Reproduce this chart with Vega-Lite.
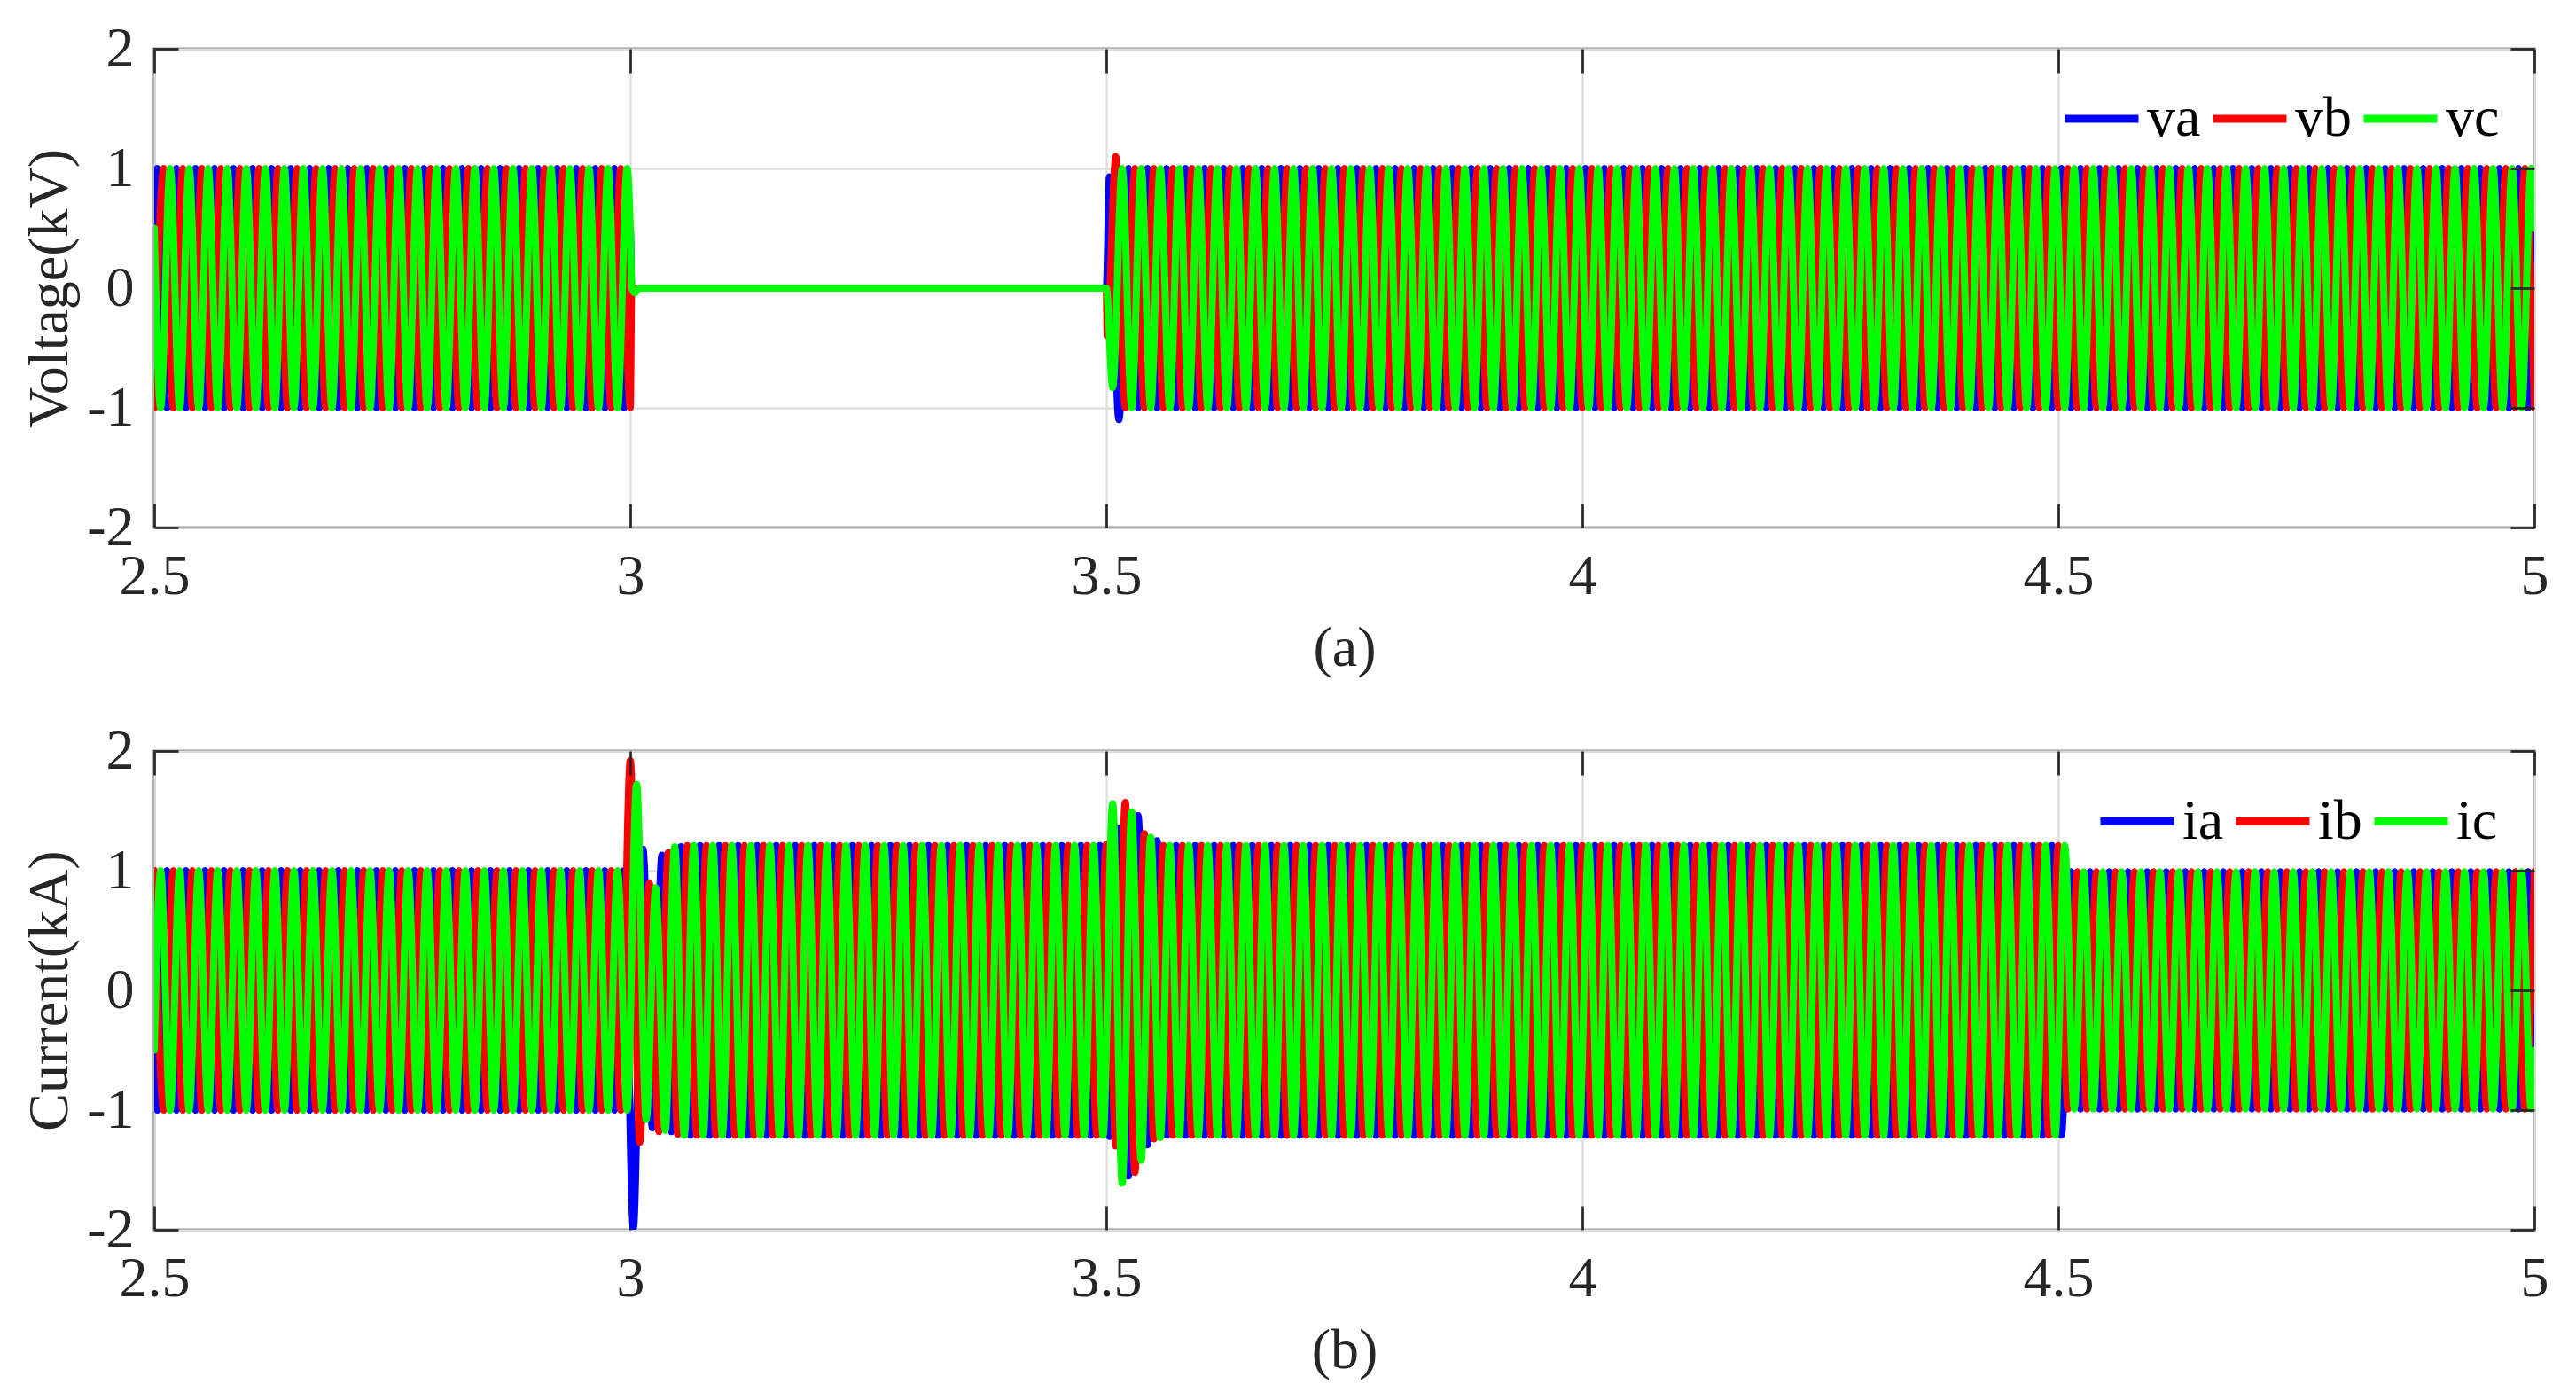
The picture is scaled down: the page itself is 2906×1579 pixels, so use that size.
{
"$schema":"https://vega.github.io/schema/vega-lite/v6.json",
"background":"white",
"padding":{"left":23,"top":21,"right":30,"bottom":20},
"config":{
"view":{"stroke":"#262626","strokeWidth":2.7},
"font":"Liberation Serif",
"axis":{"labelFont":"Liberation Serif","titleFont":"Liberation Serif","labelFontSize":64,"titleFontSize":64,"titleFontWeight":"normal","labelColor":"#262626","titleColor":"#262626","tickColor":"#262626","tickWidth":2.7,"tickSize":-27,"domain":false,"gridColor":"#dfdfdf","gridWidth":2.5,"labelFlush":false,"labelOverlap":false},
"legend":{"orient":"none","direction":"horizontal","title":null,"symbolType":"stroke","symbolSize":6889,"symbolStrokeWidth":9,"labelFontSize":64,"labelFont":"Liberation Serif","labelColor":"#000000","labelOffset":5,"columnPadding":-5,"padding":0}
},
"datasets":{
"va":[{"t":2.5,"y":0.5},
{"t":2.5033,"y":1},{"t":2.5133,"y":-1},{"t":2.5233,"y":1},{"t":2.5333,"y":-1},{"t":2.5433,"y":1},{"t":2.5533,"y":-1},{"t":2.5633,"y":1},{"t":2.5733,"y":-1},{"t":2.5833,"y":1},{"t":2.5933,"y":-1},
{"t":2.6033,"y":1},{"t":2.6133,"y":-1},{"t":2.6233,"y":1},{"t":2.6333,"y":-1},{"t":2.6433,"y":1},{"t":2.6533,"y":-1},{"t":2.6633,"y":1},{"t":2.6733,"y":-1},{"t":2.6833,"y":1},{"t":2.6933,"y":-1},
{"t":2.7033,"y":1},{"t":2.7133,"y":-1},{"t":2.7233,"y":1},{"t":2.7333,"y":-1},{"t":2.7433,"y":1},{"t":2.7533,"y":-1},{"t":2.7633,"y":1},{"t":2.7733,"y":-1},{"t":2.7833,"y":1},{"t":2.7933,"y":-1},
{"t":2.8033,"y":1},{"t":2.8133,"y":-1},{"t":2.8233,"y":1},{"t":2.8333,"y":-1},{"t":2.8433,"y":1},{"t":2.8533,"y":-1},{"t":2.8633,"y":1},{"t":2.8733,"y":-1},{"t":2.8833,"y":1},{"t":2.8933,"y":-1},
{"t":2.9033,"y":1},{"t":2.9133,"y":-1},{"t":2.9233,"y":1},{"t":2.9333,"y":-1},{"t":2.9433,"y":1},{"t":2.9533,"y":-1},{"t":2.9633,"y":1},{"t":2.9733,"y":-1},{"t":2.9833,"y":1},{"t":2.9933,"y":-1},
{"t":3,"y":0.5},{"t":3.0015,"y":0},{"t":3.5,"y":0},
{"t":3.5033,"y":0.93},{"t":3.5133,"y":-1.1},{"t":3.5233,"y":1},{"t":3.5333,"y":-1},{"t":3.5433,"y":1},{"t":3.5533,"y":-1},{"t":3.5633,"y":1},{"t":3.5733,"y":-1},{"t":3.5833,"y":1},{"t":3.5933,"y":-1},
{"t":3.6033,"y":1},{"t":3.6133,"y":-1},{"t":3.6233,"y":1},{"t":3.6333,"y":-1},{"t":3.6433,"y":1},{"t":3.6533,"y":-1},{"t":3.6633,"y":1},{"t":3.6733,"y":-1},{"t":3.6833,"y":1},{"t":3.6933,"y":-1},
{"t":3.7033,"y":1},{"t":3.7133,"y":-1},{"t":3.7233,"y":1},{"t":3.7333,"y":-1},{"t":3.7433,"y":1},{"t":3.7533,"y":-1},{"t":3.7633,"y":1},{"t":3.7733,"y":-1},{"t":3.7833,"y":1},{"t":3.7933,"y":-1},
{"t":3.8033,"y":1},{"t":3.8133,"y":-1},{"t":3.8233,"y":1},{"t":3.8333,"y":-1},{"t":3.8433,"y":1},{"t":3.8533,"y":-1},{"t":3.8633,"y":1},{"t":3.8733,"y":-1},{"t":3.8833,"y":1},{"t":3.8933,"y":-1},
{"t":3.9033,"y":1},{"t":3.9133,"y":-1},{"t":3.9233,"y":1},{"t":3.9333,"y":-1},{"t":3.9433,"y":1},{"t":3.9533,"y":-1},{"t":3.9633,"y":1},{"t":3.9733,"y":-1},{"t":3.9833,"y":1},{"t":3.9933,"y":-1},
{"t":4.0033,"y":1},{"t":4.0133,"y":-1},{"t":4.0233,"y":1},{"t":4.0333,"y":-1},{"t":4.0433,"y":1},{"t":4.0533,"y":-1},{"t":4.0633,"y":1},{"t":4.0733,"y":-1},{"t":4.0833,"y":1},{"t":4.0933,"y":-1},
{"t":4.1033,"y":1},{"t":4.1133,"y":-1},{"t":4.1233,"y":1},{"t":4.1333,"y":-1},{"t":4.1433,"y":1},{"t":4.1533,"y":-1},{"t":4.1633,"y":1},{"t":4.1733,"y":-1},{"t":4.1833,"y":1},{"t":4.1933,"y":-1},
{"t":4.2033,"y":1},{"t":4.2133,"y":-1},{"t":4.2233,"y":1},{"t":4.2333,"y":-1},{"t":4.2433,"y":1},{"t":4.2533,"y":-1},{"t":4.2633,"y":1},{"t":4.2733,"y":-1},{"t":4.2833,"y":1},{"t":4.2933,"y":-1},
{"t":4.3033,"y":1},{"t":4.3133,"y":-1},{"t":4.3233,"y":1},{"t":4.3333,"y":-1},{"t":4.3433,"y":1},{"t":4.3533,"y":-1},{"t":4.3633,"y":1},{"t":4.3733,"y":-1},{"t":4.3833,"y":1},{"t":4.3933,"y":-1},
{"t":4.4033,"y":1},{"t":4.4133,"y":-1},{"t":4.4233,"y":1},{"t":4.4333,"y":-1},{"t":4.4433,"y":1},{"t":4.4533,"y":-1},{"t":4.4633,"y":1},{"t":4.4733,"y":-1},{"t":4.4833,"y":1},{"t":4.4933,"y":-1},
{"t":4.5033,"y":1},{"t":4.5133,"y":-1},{"t":4.5233,"y":1},{"t":4.5333,"y":-1},{"t":4.5433,"y":1},{"t":4.5533,"y":-1},{"t":4.5633,"y":1},{"t":4.5733,"y":-1},{"t":4.5833,"y":1},{"t":4.5933,"y":-1},
{"t":4.6033,"y":1},{"t":4.6133,"y":-1},{"t":4.6233,"y":1},{"t":4.6333,"y":-1},{"t":4.6433,"y":1},{"t":4.6533,"y":-1},{"t":4.6633,"y":1},{"t":4.6733,"y":-1},{"t":4.6833,"y":1},{"t":4.6933,"y":-1},
{"t":4.7033,"y":1},{"t":4.7133,"y":-1},{"t":4.7233,"y":1},{"t":4.7333,"y":-1},{"t":4.7433,"y":1},{"t":4.7533,"y":-1},{"t":4.7633,"y":1},{"t":4.7733,"y":-1},{"t":4.7833,"y":1},{"t":4.7933,"y":-1},
{"t":4.8033,"y":1},{"t":4.8133,"y":-1},{"t":4.8233,"y":1},{"t":4.8333,"y":-1},{"t":4.8433,"y":1},{"t":4.8533,"y":-1},{"t":4.8633,"y":1},{"t":4.8733,"y":-1},{"t":4.8833,"y":1},{"t":4.8933,"y":-1},
{"t":4.9033,"y":1},{"t":4.9133,"y":-1},{"t":4.9233,"y":1},{"t":4.9333,"y":-1},{"t":4.9433,"y":1},{"t":4.9533,"y":-1},{"t":4.9633,"y":1},{"t":4.9733,"y":-1},{"t":4.9833,"y":1},{"t":4.9933,"y":-1},
{"t":5,"y":0.5}],
"vb":[
{"t":2.5,"y":-1},{"t":2.51,"y":1},{"t":2.52,"y":-1},{"t":2.53,"y":1},{"t":2.54,"y":-1},{"t":2.55,"y":1},{"t":2.56,"y":-1},{"t":2.57,"y":1},{"t":2.58,"y":-1},{"t":2.59,"y":1},
{"t":2.6,"y":-1},{"t":2.61,"y":1},{"t":2.62,"y":-1},{"t":2.63,"y":1},{"t":2.64,"y":-1},{"t":2.65,"y":1},{"t":2.66,"y":-1},{"t":2.67,"y":1},{"t":2.68,"y":-1},{"t":2.69,"y":1},
{"t":2.7,"y":-1},{"t":2.71,"y":1},{"t":2.72,"y":-1},{"t":2.73,"y":1},{"t":2.74,"y":-1},{"t":2.75,"y":1},{"t":2.76,"y":-1},{"t":2.77,"y":1},{"t":2.78,"y":-1},{"t":2.79,"y":1},
{"t":2.8,"y":-1},{"t":2.81,"y":1},{"t":2.82,"y":-1},{"t":2.83,"y":1},{"t":2.84,"y":-1},{"t":2.85,"y":1},{"t":2.86,"y":-1},{"t":2.87,"y":1},{"t":2.88,"y":-1},{"t":2.89,"y":1},
{"t":2.9,"y":-1},{"t":2.91,"y":1},{"t":2.92,"y":-1},{"t":2.93,"y":1},{"t":2.94,"y":-1},{"t":2.95,"y":1},{"t":2.96,"y":-1},{"t":2.97,"y":1},{"t":2.98,"y":-1},{"t":2.99,"y":1},
{"t":3,"y":-1},{"t":3.0015,"y":0},{"t":3.5,"y":0},{"t":3.501,"y":-0.4},
{"t":3.51,"y":1.1},{"t":3.52,"y":-1},{"t":3.53,"y":1},{"t":3.54,"y":-1},{"t":3.55,"y":1},{"t":3.56,"y":-1},{"t":3.57,"y":1},{"t":3.58,"y":-1},{"t":3.59,"y":1},
{"t":3.6,"y":-1},{"t":3.61,"y":1},{"t":3.62,"y":-1},{"t":3.63,"y":1},{"t":3.64,"y":-1},{"t":3.65,"y":1},{"t":3.66,"y":-1},{"t":3.67,"y":1},{"t":3.68,"y":-1},{"t":3.69,"y":1},
{"t":3.7,"y":-1},{"t":3.71,"y":1},{"t":3.72,"y":-1},{"t":3.73,"y":1},{"t":3.74,"y":-1},{"t":3.75,"y":1},{"t":3.76,"y":-1},{"t":3.77,"y":1},{"t":3.78,"y":-1},{"t":3.79,"y":1},
{"t":3.8,"y":-1},{"t":3.81,"y":1},{"t":3.82,"y":-1},{"t":3.83,"y":1},{"t":3.84,"y":-1},{"t":3.85,"y":1},{"t":3.86,"y":-1},{"t":3.87,"y":1},{"t":3.88,"y":-1},{"t":3.89,"y":1},
{"t":3.9,"y":-1},{"t":3.91,"y":1},{"t":3.92,"y":-1},{"t":3.93,"y":1},{"t":3.94,"y":-1},{"t":3.95,"y":1},{"t":3.96,"y":-1},{"t":3.97,"y":1},{"t":3.98,"y":-1},{"t":3.99,"y":1},
{"t":4,"y":-1},{"t":4.01,"y":1},{"t":4.02,"y":-1},{"t":4.03,"y":1},{"t":4.04,"y":-1},{"t":4.05,"y":1},{"t":4.06,"y":-1},{"t":4.07,"y":1},{"t":4.08,"y":-1},{"t":4.09,"y":1},
{"t":4.1,"y":-1},{"t":4.11,"y":1},{"t":4.12,"y":-1},{"t":4.13,"y":1},{"t":4.14,"y":-1},{"t":4.15,"y":1},{"t":4.16,"y":-1},{"t":4.17,"y":1},{"t":4.18,"y":-1},{"t":4.19,"y":1},
{"t":4.2,"y":-1},{"t":4.21,"y":1},{"t":4.22,"y":-1},{"t":4.23,"y":1},{"t":4.24,"y":-1},{"t":4.25,"y":1},{"t":4.26,"y":-1},{"t":4.27,"y":1},{"t":4.28,"y":-1},{"t":4.29,"y":1},
{"t":4.3,"y":-1},{"t":4.31,"y":1},{"t":4.32,"y":-1},{"t":4.33,"y":1},{"t":4.34,"y":-1},{"t":4.35,"y":1},{"t":4.36,"y":-1},{"t":4.37,"y":1},{"t":4.38,"y":-1},{"t":4.39,"y":1},
{"t":4.4,"y":-1},{"t":4.41,"y":1},{"t":4.42,"y":-1},{"t":4.43,"y":1},{"t":4.44,"y":-1},{"t":4.45,"y":1},{"t":4.46,"y":-1},{"t":4.47,"y":1},{"t":4.48,"y":-1},{"t":4.49,"y":1},
{"t":4.5,"y":-1},{"t":4.51,"y":1},{"t":4.52,"y":-1},{"t":4.53,"y":1},{"t":4.54,"y":-1},{"t":4.55,"y":1},{"t":4.56,"y":-1},{"t":4.57,"y":1},{"t":4.58,"y":-1},{"t":4.59,"y":1},
{"t":4.6,"y":-1},{"t":4.61,"y":1},{"t":4.62,"y":-1},{"t":4.63,"y":1},{"t":4.64,"y":-1},{"t":4.65,"y":1},{"t":4.66,"y":-1},{"t":4.67,"y":1},{"t":4.68,"y":-1},{"t":4.69,"y":1},
{"t":4.7,"y":-1},{"t":4.71,"y":1},{"t":4.72,"y":-1},{"t":4.73,"y":1},{"t":4.74,"y":-1},{"t":4.75,"y":1},{"t":4.76,"y":-1},{"t":4.77,"y":1},{"t":4.78,"y":-1},{"t":4.79,"y":1},
{"t":4.8,"y":-1},{"t":4.81,"y":1},{"t":4.82,"y":-1},{"t":4.83,"y":1},{"t":4.84,"y":-1},{"t":4.85,"y":1},{"t":4.86,"y":-1},{"t":4.87,"y":1},{"t":4.88,"y":-1},{"t":4.89,"y":1},
{"t":4.9,"y":-1},{"t":4.91,"y":1},{"t":4.92,"y":-1},{"t":4.93,"y":1},{"t":4.94,"y":-1},{"t":4.95,"y":1},{"t":4.96,"y":-1},{"t":4.97,"y":1},{"t":4.98,"y":-1},{"t":4.99,"y":1},
{"t":5,"y":-1}],
"vc":[{"t":2.5,"y":0.5},
{"t":2.5067,"y":-1},{"t":2.5167,"y":1},{"t":2.5267,"y":-1},{"t":2.5367,"y":1},{"t":2.5467,"y":-1},{"t":2.5567,"y":1},{"t":2.5667,"y":-1},{"t":2.5767,"y":1},{"t":2.5867,"y":-1},{"t":2.5967,"y":1},
{"t":2.6067,"y":-1},{"t":2.6167,"y":1},{"t":2.6267,"y":-1},{"t":2.6367,"y":1},{"t":2.6467,"y":-1},{"t":2.6567,"y":1},{"t":2.6667,"y":-1},{"t":2.6767,"y":1},{"t":2.6867,"y":-1},{"t":2.6967,"y":1},
{"t":2.7067,"y":-1},{"t":2.7167,"y":1},{"t":2.7267,"y":-1},{"t":2.7367,"y":1},{"t":2.7467,"y":-1},{"t":2.7567,"y":1},{"t":2.7667,"y":-1},{"t":2.7767,"y":1},{"t":2.7867,"y":-1},{"t":2.7967,"y":1},
{"t":2.8067,"y":-1},{"t":2.8167,"y":1},{"t":2.8267,"y":-1},{"t":2.8367,"y":1},{"t":2.8467,"y":-1},{"t":2.8567,"y":1},{"t":2.8667,"y":-1},{"t":2.8767,"y":1},{"t":2.8867,"y":-1},{"t":2.8967,"y":1},
{"t":2.9067,"y":-1},{"t":2.9167,"y":1},{"t":2.9267,"y":-1},{"t":2.9367,"y":1},{"t":2.9467,"y":-1},{"t":2.9567,"y":1},{"t":2.9667,"y":-1},{"t":2.9767,"y":1},{"t":2.9867,"y":-1},{"t":2.9967,"y":1},
{"t":3,"y":0.5},{"t":3.0015,"y":0},{"t":3.005,"y":-0.04},{"t":3.009,"y":0},{"t":3.5,"y":0},
{"t":3.5067,"y":-0.83},{"t":3.5167,"y":1},{"t":3.5267,"y":-1},{"t":3.5367,"y":1},{"t":3.5467,"y":-1},{"t":3.5567,"y":1},{"t":3.5667,"y":-1},{"t":3.5767,"y":1},{"t":3.5867,"y":-1},{"t":3.5967,"y":1},
{"t":3.6067,"y":-1},{"t":3.6167,"y":1},{"t":3.6267,"y":-1},{"t":3.6367,"y":1},{"t":3.6467,"y":-1},{"t":3.6567,"y":1},{"t":3.6667,"y":-1},{"t":3.6767,"y":1},{"t":3.6867,"y":-1},{"t":3.6967,"y":1},
{"t":3.7067,"y":-1},{"t":3.7167,"y":1},{"t":3.7267,"y":-1},{"t":3.7367,"y":1},{"t":3.7467,"y":-1},{"t":3.7567,"y":1},{"t":3.7667,"y":-1},{"t":3.7767,"y":1},{"t":3.7867,"y":-1},{"t":3.7967,"y":1},
{"t":3.8067,"y":-1},{"t":3.8167,"y":1},{"t":3.8267,"y":-1},{"t":3.8367,"y":1},{"t":3.8467,"y":-1},{"t":3.8567,"y":1},{"t":3.8667,"y":-1},{"t":3.8767,"y":1},{"t":3.8867,"y":-1},{"t":3.8967,"y":1},
{"t":3.9067,"y":-1},{"t":3.9167,"y":1},{"t":3.9267,"y":-1},{"t":3.9367,"y":1},{"t":3.9467,"y":-1},{"t":3.9567,"y":1},{"t":3.9667,"y":-1},{"t":3.9767,"y":1},{"t":3.9867,"y":-1},{"t":3.9967,"y":1},
{"t":4.0067,"y":-1},{"t":4.0167,"y":1},{"t":4.0267,"y":-1},{"t":4.0367,"y":1},{"t":4.0467,"y":-1},{"t":4.0567,"y":1},{"t":4.0667,"y":-1},{"t":4.0767,"y":1},{"t":4.0867,"y":-1},{"t":4.0967,"y":1},
{"t":4.1067,"y":-1},{"t":4.1167,"y":1},{"t":4.1267,"y":-1},{"t":4.1367,"y":1},{"t":4.1467,"y":-1},{"t":4.1567,"y":1},{"t":4.1667,"y":-1},{"t":4.1767,"y":1},{"t":4.1867,"y":-1},{"t":4.1967,"y":1},
{"t":4.2067,"y":-1},{"t":4.2167,"y":1},{"t":4.2267,"y":-1},{"t":4.2367,"y":1},{"t":4.2467,"y":-1},{"t":4.2567,"y":1},{"t":4.2667,"y":-1},{"t":4.2767,"y":1},{"t":4.2867,"y":-1},{"t":4.2967,"y":1},
{"t":4.3067,"y":-1},{"t":4.3167,"y":1},{"t":4.3267,"y":-1},{"t":4.3367,"y":1},{"t":4.3467,"y":-1},{"t":4.3567,"y":1},{"t":4.3667,"y":-1},{"t":4.3767,"y":1},{"t":4.3867,"y":-1},{"t":4.3967,"y":1},
{"t":4.4067,"y":-1},{"t":4.4167,"y":1},{"t":4.4267,"y":-1},{"t":4.4367,"y":1},{"t":4.4467,"y":-1},{"t":4.4567,"y":1},{"t":4.4667,"y":-1},{"t":4.4767,"y":1},{"t":4.4867,"y":-1},{"t":4.4967,"y":1},
{"t":4.5067,"y":-1},{"t":4.5167,"y":1},{"t":4.5267,"y":-1},{"t":4.5367,"y":1},{"t":4.5467,"y":-1},{"t":4.5567,"y":1},{"t":4.5667,"y":-1},{"t":4.5767,"y":1},{"t":4.5867,"y":-1},{"t":4.5967,"y":1},
{"t":4.6067,"y":-1},{"t":4.6167,"y":1},{"t":4.6267,"y":-1},{"t":4.6367,"y":1},{"t":4.6467,"y":-1},{"t":4.6567,"y":1},{"t":4.6667,"y":-1},{"t":4.6767,"y":1},{"t":4.6867,"y":-1},{"t":4.6967,"y":1},
{"t":4.7067,"y":-1},{"t":4.7167,"y":1},{"t":4.7267,"y":-1},{"t":4.7367,"y":1},{"t":4.7467,"y":-1},{"t":4.7567,"y":1},{"t":4.7667,"y":-1},{"t":4.7767,"y":1},{"t":4.7867,"y":-1},{"t":4.7967,"y":1},
{"t":4.8067,"y":-1},{"t":4.8167,"y":1},{"t":4.8267,"y":-1},{"t":4.8367,"y":1},{"t":4.8467,"y":-1},{"t":4.8567,"y":1},{"t":4.8667,"y":-1},{"t":4.8767,"y":1},{"t":4.8867,"y":-1},{"t":4.8967,"y":1},
{"t":4.9067,"y":-1},{"t":4.9167,"y":1},{"t":4.9267,"y":-1},{"t":4.9367,"y":1},{"t":4.9467,"y":-1},{"t":4.9567,"y":1},{"t":4.9667,"y":-1},{"t":4.9767,"y":1},{"t":4.9867,"y":-1},{"t":4.9967,"y":1},
{"t":5,"y":0.5}],
"ia":[{"t":2.5,"y":-0.5},
{"t":2.5033,"y":-1},{"t":2.5133,"y":1},{"t":2.5233,"y":-1},{"t":2.5333,"y":1},{"t":2.5433,"y":-1},{"t":2.5533,"y":1},{"t":2.5633,"y":-1},{"t":2.5733,"y":1},{"t":2.5833,"y":-1},{"t":2.5933,"y":1},
{"t":2.6033,"y":-1},{"t":2.6133,"y":1},{"t":2.6233,"y":-1},{"t":2.6333,"y":1},{"t":2.6433,"y":-1},{"t":2.6533,"y":1},{"t":2.6633,"y":-1},{"t":2.6733,"y":1},{"t":2.6833,"y":-1},{"t":2.6933,"y":1},
{"t":2.7033,"y":-1},{"t":2.7133,"y":1},{"t":2.7233,"y":-1},{"t":2.7333,"y":1},{"t":2.7433,"y":-1},{"t":2.7533,"y":1},{"t":2.7633,"y":-1},{"t":2.7733,"y":1},{"t":2.7833,"y":-1},{"t":2.7933,"y":1},
{"t":2.8033,"y":-1},{"t":2.8133,"y":1},{"t":2.8233,"y":-1},{"t":2.8333,"y":1},{"t":2.8433,"y":-1},{"t":2.8533,"y":1},{"t":2.8633,"y":-1},{"t":2.8733,"y":1},{"t":2.8833,"y":-1},{"t":2.8933,"y":1},
{"t":2.9033,"y":-1},{"t":2.9133,"y":1},{"t":2.9233,"y":-1},{"t":2.9333,"y":1},{"t":2.9433,"y":-1},{"t":2.9533,"y":1},{"t":2.9633,"y":-1},{"t":2.9733,"y":1},{"t":2.9833,"y":-1},{"t":2.9933,"y":1},
{"t":3.0033,"y":-1.98},{"t":3.0133,"y":1.18},{"t":3.0233,"y":-1.15},{"t":3.0333,"y":1.13},{"t":3.0433,"y":-1.18},{"t":3.0533,"y":1.2},{"t":3.0633,"y":-1.21},{"t":3.0733,"y":1.21},{"t":3.0833,"y":-1.21},{"t":3.0933,"y":1.21},
{"t":3.1033,"y":-1.21},{"t":3.1133,"y":1.21},{"t":3.1233,"y":-1.21},{"t":3.1333,"y":1.21},{"t":3.1433,"y":-1.21},{"t":3.1533,"y":1.21},{"t":3.1633,"y":-1.21},{"t":3.1733,"y":1.21},{"t":3.1833,"y":-1.21},{"t":3.1933,"y":1.21},
{"t":3.2033,"y":-1.21},{"t":3.2133,"y":1.21},{"t":3.2233,"y":-1.21},{"t":3.2333,"y":1.21},{"t":3.2433,"y":-1.21},{"t":3.2533,"y":1.21},{"t":3.2633,"y":-1.21},{"t":3.2733,"y":1.21},{"t":3.2833,"y":-1.21},{"t":3.2933,"y":1.21},
{"t":3.3033,"y":-1.21},{"t":3.3133,"y":1.21},{"t":3.3233,"y":-1.21},{"t":3.3333,"y":1.21},{"t":3.3433,"y":-1.21},{"t":3.3533,"y":1.21},{"t":3.3633,"y":-1.21},{"t":3.3733,"y":1.21},{"t":3.3833,"y":-1.21},{"t":3.3933,"y":1.21},
{"t":3.4033,"y":-1.21},{"t":3.4133,"y":1.21},{"t":3.4233,"y":-1.21},{"t":3.4333,"y":1.21},{"t":3.4433,"y":-1.21},{"t":3.4533,"y":1.21},{"t":3.4633,"y":-1.21},{"t":3.4733,"y":1.21},{"t":3.4833,"y":-1.21},{"t":3.4933,"y":1.21},
{"t":3.5033,"y":-1.22},{"t":3.5133,"y":1.35},{"t":3.5233,"y":-1.55},{"t":3.5333,"y":1.46},{"t":3.5433,"y":-1.29},{"t":3.5533,"y":1.25},{"t":3.5633,"y":-1.21},{"t":3.5733,"y":1.21},{"t":3.5833,"y":-1.21},{"t":3.5933,"y":1.21},
{"t":3.6033,"y":-1.21},{"t":3.6133,"y":1.21},{"t":3.6233,"y":-1.21},{"t":3.6333,"y":1.21},{"t":3.6433,"y":-1.21},{"t":3.6533,"y":1.21},{"t":3.6633,"y":-1.21},{"t":3.6733,"y":1.21},{"t":3.6833,"y":-1.21},{"t":3.6933,"y":1.21},
{"t":3.7033,"y":-1.21},{"t":3.7133,"y":1.21},{"t":3.7233,"y":-1.21},{"t":3.7333,"y":1.21},{"t":3.7433,"y":-1.21},{"t":3.7533,"y":1.21},{"t":3.7633,"y":-1.21},{"t":3.7733,"y":1.21},{"t":3.7833,"y":-1.21},{"t":3.7933,"y":1.21},
{"t":3.8033,"y":-1.21},{"t":3.8133,"y":1.21},{"t":3.8233,"y":-1.21},{"t":3.8333,"y":1.21},{"t":3.8433,"y":-1.21},{"t":3.8533,"y":1.21},{"t":3.8633,"y":-1.21},{"t":3.8733,"y":1.21},{"t":3.8833,"y":-1.21},{"t":3.8933,"y":1.21},
{"t":3.9033,"y":-1.21},{"t":3.9133,"y":1.21},{"t":3.9233,"y":-1.21},{"t":3.9333,"y":1.21},{"t":3.9433,"y":-1.21},{"t":3.9533,"y":1.21},{"t":3.9633,"y":-1.21},{"t":3.9733,"y":1.21},{"t":3.9833,"y":-1.21},{"t":3.9933,"y":1.21},
{"t":4.0033,"y":-1.21},{"t":4.0133,"y":1.21},{"t":4.0233,"y":-1.21},{"t":4.0333,"y":1.21},{"t":4.0433,"y":-1.21},{"t":4.0533,"y":1.21},{"t":4.0633,"y":-1.21},{"t":4.0733,"y":1.21},{"t":4.0833,"y":-1.21},{"t":4.0933,"y":1.21},
{"t":4.1033,"y":-1.21},{"t":4.1133,"y":1.21},{"t":4.1233,"y":-1.21},{"t":4.1333,"y":1.21},{"t":4.1433,"y":-1.21},{"t":4.1533,"y":1.21},{"t":4.1633,"y":-1.21},{"t":4.1733,"y":1.21},{"t":4.1833,"y":-1.21},{"t":4.1933,"y":1.21},
{"t":4.2033,"y":-1.21},{"t":4.2133,"y":1.21},{"t":4.2233,"y":-1.21},{"t":4.2333,"y":1.21},{"t":4.2433,"y":-1.21},{"t":4.2533,"y":1.21},{"t":4.2633,"y":-1.21},{"t":4.2733,"y":1.21},{"t":4.2833,"y":-1.21},{"t":4.2933,"y":1.21},
{"t":4.3033,"y":-1.21},{"t":4.3133,"y":1.21},{"t":4.3233,"y":-1.21},{"t":4.3333,"y":1.21},{"t":4.3433,"y":-1.21},{"t":4.3533,"y":1.21},{"t":4.3633,"y":-1.21},{"t":4.3733,"y":1.21},{"t":4.3833,"y":-1.21},{"t":4.3933,"y":1.21},
{"t":4.4033,"y":-1.21},{"t":4.4133,"y":1.21},{"t":4.4233,"y":-1.21},{"t":4.4333,"y":1.21},{"t":4.4433,"y":-1.21},{"t":4.4533,"y":1.21},{"t":4.4633,"y":-1.21},{"t":4.4733,"y":1.21},{"t":4.4833,"y":-1.21},{"t":4.4933,"y":1.21},
{"t":4.5033,"y":-1.21},{"t":4.5133,"y":0.99},{"t":4.5233,"y":-0.99},{"t":4.5333,"y":0.99},{"t":4.5433,"y":-0.99},{"t":4.5533,"y":0.99},{"t":4.5633,"y":-0.99},{"t":4.5733,"y":0.99},{"t":4.5833,"y":-0.99},{"t":4.5933,"y":0.99},
{"t":4.6033,"y":-0.99},{"t":4.6133,"y":0.99},{"t":4.6233,"y":-0.99},{"t":4.6333,"y":0.99},{"t":4.6433,"y":-0.99},{"t":4.6533,"y":0.99},{"t":4.6633,"y":-0.99},{"t":4.6733,"y":0.99},{"t":4.6833,"y":-0.99},{"t":4.6933,"y":0.99},
{"t":4.7033,"y":-0.99},{"t":4.7133,"y":0.99},{"t":4.7233,"y":-0.99},{"t":4.7333,"y":0.99},{"t":4.7433,"y":-0.99},{"t":4.7533,"y":0.99},{"t":4.7633,"y":-0.99},{"t":4.7733,"y":0.99},{"t":4.7833,"y":-0.99},{"t":4.7933,"y":0.99},
{"t":4.8033,"y":-0.99},{"t":4.8133,"y":0.99},{"t":4.8233,"y":-0.99},{"t":4.8333,"y":0.99},{"t":4.8433,"y":-0.99},{"t":4.8533,"y":0.99},{"t":4.8633,"y":-0.99},{"t":4.8733,"y":0.99},{"t":4.8833,"y":-0.99},{"t":4.8933,"y":0.99},
{"t":4.9033,"y":-0.99},{"t":4.9133,"y":0.99},{"t":4.9233,"y":-0.99},{"t":4.9333,"y":0.99},{"t":4.9433,"y":-0.99},{"t":4.9533,"y":0.99},{"t":4.9633,"y":-0.99},{"t":4.9733,"y":0.99},{"t":4.9833,"y":-0.99},{"t":4.9933,"y":0.99},
{"t":5,"y":-0.5}],
"ib":[
{"t":2.5,"y":1},{"t":2.51,"y":-1},{"t":2.52,"y":1},{"t":2.53,"y":-1},{"t":2.54,"y":1},{"t":2.55,"y":-1},{"t":2.56,"y":1},{"t":2.57,"y":-1},{"t":2.58,"y":1},{"t":2.59,"y":-1},
{"t":2.6,"y":1},{"t":2.61,"y":-1},{"t":2.62,"y":1},{"t":2.63,"y":-1},{"t":2.64,"y":1},{"t":2.65,"y":-1},{"t":2.66,"y":1},{"t":2.67,"y":-1},{"t":2.68,"y":1},{"t":2.69,"y":-1},
{"t":2.7,"y":1},{"t":2.71,"y":-1},{"t":2.72,"y":1},{"t":2.73,"y":-1},{"t":2.74,"y":1},{"t":2.75,"y":-1},{"t":2.76,"y":1},{"t":2.77,"y":-1},{"t":2.78,"y":1},{"t":2.79,"y":-1},
{"t":2.8,"y":1},{"t":2.81,"y":-1},{"t":2.82,"y":1},{"t":2.83,"y":-1},{"t":2.84,"y":1},{"t":2.85,"y":-1},{"t":2.86,"y":1},{"t":2.87,"y":-1},{"t":2.88,"y":1},{"t":2.89,"y":-1},
{"t":2.9,"y":1},{"t":2.91,"y":-1},{"t":2.92,"y":1},{"t":2.93,"y":-1},{"t":2.94,"y":1},{"t":2.95,"y":-1},{"t":2.96,"y":1},{"t":2.97,"y":-1},{"t":2.98,"y":1},{"t":2.99,"y":-1},
{"t":3,"y":1.92},{"t":3.01,"y":-1.27},{"t":3.02,"y":0.9},{"t":3.03,"y":-1.18},{"t":3.04,"y":1.15},{"t":3.05,"y":-1.2},{"t":3.06,"y":1.21},{"t":3.07,"y":-1.21},{"t":3.08,"y":1.21},{"t":3.09,"y":-1.21},
{"t":3.1,"y":1.21},{"t":3.11,"y":-1.21},{"t":3.12,"y":1.21},{"t":3.13,"y":-1.21},{"t":3.14,"y":1.21},{"t":3.15,"y":-1.21},{"t":3.16,"y":1.21},{"t":3.17,"y":-1.21},{"t":3.18,"y":1.21},{"t":3.19,"y":-1.21},
{"t":3.2,"y":1.21},{"t":3.21,"y":-1.21},{"t":3.22,"y":1.21},{"t":3.23,"y":-1.21},{"t":3.24,"y":1.21},{"t":3.25,"y":-1.21},{"t":3.26,"y":1.21},{"t":3.27,"y":-1.21},{"t":3.28,"y":1.21},{"t":3.29,"y":-1.21},
{"t":3.3,"y":1.21},{"t":3.31,"y":-1.21},{"t":3.32,"y":1.21},{"t":3.33,"y":-1.21},{"t":3.34,"y":1.21},{"t":3.35,"y":-1.21},{"t":3.36,"y":1.21},{"t":3.37,"y":-1.21},{"t":3.38,"y":1.21},{"t":3.39,"y":-1.21},
{"t":3.4,"y":1.21},{"t":3.41,"y":-1.21},{"t":3.42,"y":1.21},{"t":3.43,"y":-1.21},{"t":3.44,"y":1.21},{"t":3.45,"y":-1.21},{"t":3.46,"y":1.21},{"t":3.47,"y":-1.21},{"t":3.48,"y":1.21},{"t":3.49,"y":-1.21},
{"t":3.5,"y":1.22},{"t":3.51,"y":-1.3},{"t":3.52,"y":1.57},{"t":3.53,"y":-1.52},{"t":3.54,"y":1.31},{"t":3.55,"y":-1.24},{"t":3.56,"y":1.21},{"t":3.57,"y":-1.21},{"t":3.58,"y":1.21},{"t":3.59,"y":-1.21},
{"t":3.6,"y":1.21},{"t":3.61,"y":-1.21},{"t":3.62,"y":1.21},{"t":3.63,"y":-1.21},{"t":3.64,"y":1.21},{"t":3.65,"y":-1.21},{"t":3.66,"y":1.21},{"t":3.67,"y":-1.21},{"t":3.68,"y":1.21},{"t":3.69,"y":-1.21},
{"t":3.7,"y":1.21},{"t":3.71,"y":-1.21},{"t":3.72,"y":1.21},{"t":3.73,"y":-1.21},{"t":3.74,"y":1.21},{"t":3.75,"y":-1.21},{"t":3.76,"y":1.21},{"t":3.77,"y":-1.21},{"t":3.78,"y":1.21},{"t":3.79,"y":-1.21},
{"t":3.8,"y":1.21},{"t":3.81,"y":-1.21},{"t":3.82,"y":1.21},{"t":3.83,"y":-1.21},{"t":3.84,"y":1.21},{"t":3.85,"y":-1.21},{"t":3.86,"y":1.21},{"t":3.87,"y":-1.21},{"t":3.88,"y":1.21},{"t":3.89,"y":-1.21},
{"t":3.9,"y":1.21},{"t":3.91,"y":-1.21},{"t":3.92,"y":1.21},{"t":3.93,"y":-1.21},{"t":3.94,"y":1.21},{"t":3.95,"y":-1.21},{"t":3.96,"y":1.21},{"t":3.97,"y":-1.21},{"t":3.98,"y":1.21},{"t":3.99,"y":-1.21},
{"t":4,"y":1.21},{"t":4.01,"y":-1.21},{"t":4.02,"y":1.21},{"t":4.03,"y":-1.21},{"t":4.04,"y":1.21},{"t":4.05,"y":-1.21},{"t":4.06,"y":1.21},{"t":4.07,"y":-1.21},{"t":4.08,"y":1.21},{"t":4.09,"y":-1.21},
{"t":4.1,"y":1.21},{"t":4.11,"y":-1.21},{"t":4.12,"y":1.21},{"t":4.13,"y":-1.21},{"t":4.14,"y":1.21},{"t":4.15,"y":-1.21},{"t":4.16,"y":1.21},{"t":4.17,"y":-1.21},{"t":4.18,"y":1.21},{"t":4.19,"y":-1.21},
{"t":4.2,"y":1.21},{"t":4.21,"y":-1.21},{"t":4.22,"y":1.21},{"t":4.23,"y":-1.21},{"t":4.24,"y":1.21},{"t":4.25,"y":-1.21},{"t":4.26,"y":1.21},{"t":4.27,"y":-1.21},{"t":4.28,"y":1.21},{"t":4.29,"y":-1.21},
{"t":4.3,"y":1.21},{"t":4.31,"y":-1.21},{"t":4.32,"y":1.21},{"t":4.33,"y":-1.21},{"t":4.34,"y":1.21},{"t":4.35,"y":-1.21},{"t":4.36,"y":1.21},{"t":4.37,"y":-1.21},{"t":4.38,"y":1.21},{"t":4.39,"y":-1.21},
{"t":4.4,"y":1.21},{"t":4.41,"y":-1.21},{"t":4.42,"y":1.21},{"t":4.43,"y":-1.21},{"t":4.44,"y":1.21},{"t":4.45,"y":-1.21},{"t":4.46,"y":1.21},{"t":4.47,"y":-1.21},{"t":4.48,"y":1.21},{"t":4.49,"y":-1.21},
{"t":4.5,"y":1.21},{"t":4.51,"y":-0.99},{"t":4.52,"y":0.99},{"t":4.53,"y":-0.99},{"t":4.54,"y":0.99},{"t":4.55,"y":-0.99},{"t":4.56,"y":0.99},{"t":4.57,"y":-0.99},{"t":4.58,"y":0.99},{"t":4.59,"y":-0.99},
{"t":4.6,"y":0.99},{"t":4.61,"y":-0.99},{"t":4.62,"y":0.99},{"t":4.63,"y":-0.99},{"t":4.64,"y":0.99},{"t":4.65,"y":-0.99},{"t":4.66,"y":0.99},{"t":4.67,"y":-0.99},{"t":4.68,"y":0.99},{"t":4.69,"y":-0.99},
{"t":4.7,"y":0.99},{"t":4.71,"y":-0.99},{"t":4.72,"y":0.99},{"t":4.73,"y":-0.99},{"t":4.74,"y":0.99},{"t":4.75,"y":-0.99},{"t":4.76,"y":0.99},{"t":4.77,"y":-0.99},{"t":4.78,"y":0.99},{"t":4.79,"y":-0.99},
{"t":4.8,"y":0.99},{"t":4.81,"y":-0.99},{"t":4.82,"y":0.99},{"t":4.83,"y":-0.99},{"t":4.84,"y":0.99},{"t":4.85,"y":-0.99},{"t":4.86,"y":0.99},{"t":4.87,"y":-0.99},{"t":4.88,"y":0.99},{"t":4.89,"y":-0.99},
{"t":4.9,"y":0.99},{"t":4.91,"y":-0.99},{"t":4.92,"y":0.99},{"t":4.93,"y":-0.99},{"t":4.94,"y":0.99},{"t":4.95,"y":-0.99},{"t":4.96,"y":0.99},{"t":4.97,"y":-0.99},{"t":4.98,"y":0.99},{"t":4.99,"y":-0.99},
{"t":5,"y":0.99}],
"ic":[{"t":2.5,"y":-0.5},
{"t":2.5067,"y":1},{"t":2.5167,"y":-1},{"t":2.5267,"y":1},{"t":2.5367,"y":-1},{"t":2.5467,"y":1},{"t":2.5567,"y":-1},{"t":2.5667,"y":1},{"t":2.5767,"y":-1},{"t":2.5867,"y":1},{"t":2.5967,"y":-1},
{"t":2.6067,"y":1},{"t":2.6167,"y":-1},{"t":2.6267,"y":1},{"t":2.6367,"y":-1},{"t":2.6467,"y":1},{"t":2.6567,"y":-1},{"t":2.6667,"y":1},{"t":2.6767,"y":-1},{"t":2.6867,"y":1},{"t":2.6967,"y":-1},
{"t":2.7067,"y":1},{"t":2.7167,"y":-1},{"t":2.7267,"y":1},{"t":2.7367,"y":-1},{"t":2.7467,"y":1},{"t":2.7567,"y":-1},{"t":2.7667,"y":1},{"t":2.7767,"y":-1},{"t":2.7867,"y":1},{"t":2.7967,"y":-1},
{"t":2.8067,"y":1},{"t":2.8167,"y":-1},{"t":2.8267,"y":1},{"t":2.8367,"y":-1},{"t":2.8467,"y":1},{"t":2.8567,"y":-1},{"t":2.8667,"y":1},{"t":2.8767,"y":-1},{"t":2.8867,"y":1},{"t":2.8967,"y":-1},
{"t":2.9067,"y":1},{"t":2.9167,"y":-1},{"t":2.9267,"y":1},{"t":2.9367,"y":-1},{"t":2.9467,"y":1},{"t":2.9567,"y":-1},{"t":2.9667,"y":1},{"t":2.9767,"y":-1},{"t":2.9867,"y":1},{"t":2.9967,"y":-1},
{"t":3.0067,"y":1.72},{"t":3.0167,"y":-1.08},{"t":3.0267,"y":0.86},{"t":3.0367,"y":-1.17},{"t":3.0467,"y":1.2},{"t":3.0567,"y":-1.21},{"t":3.0667,"y":1.21},{"t":3.0767,"y":-1.21},{"t":3.0867,"y":1.21},{"t":3.0967,"y":-1.21},
{"t":3.1067,"y":1.21},{"t":3.1167,"y":-1.21},{"t":3.1267,"y":1.21},{"t":3.1367,"y":-1.21},{"t":3.1467,"y":1.21},{"t":3.1567,"y":-1.21},{"t":3.1667,"y":1.21},{"t":3.1767,"y":-1.21},{"t":3.1867,"y":1.21},{"t":3.1967,"y":-1.21},
{"t":3.2067,"y":1.21},{"t":3.2167,"y":-1.21},{"t":3.2267,"y":1.21},{"t":3.2367,"y":-1.21},{"t":3.2467,"y":1.21},{"t":3.2567,"y":-1.21},{"t":3.2667,"y":1.21},{"t":3.2767,"y":-1.21},{"t":3.2867,"y":1.21},{"t":3.2967,"y":-1.21},
{"t":3.3067,"y":1.21},{"t":3.3167,"y":-1.21},{"t":3.3267,"y":1.21},{"t":3.3367,"y":-1.21},{"t":3.3467,"y":1.21},{"t":3.3567,"y":-1.21},{"t":3.3667,"y":1.21},{"t":3.3767,"y":-1.21},{"t":3.3867,"y":1.21},{"t":3.3967,"y":-1.21},
{"t":3.4067,"y":1.21},{"t":3.4167,"y":-1.21},{"t":3.4267,"y":1.21},{"t":3.4367,"y":-1.21},{"t":3.4467,"y":1.21},{"t":3.4567,"y":-1.21},{"t":3.4667,"y":1.21},{"t":3.4767,"y":-1.21},{"t":3.4867,"y":1.21},{"t":3.4967,"y":-1.21},
{"t":3.5067,"y":1.56},{"t":3.5167,"y":-1.61},{"t":3.5267,"y":1.49},{"t":3.5367,"y":-1.42},{"t":3.5467,"y":1.28},{"t":3.5567,"y":-1.23},{"t":3.5667,"y":1.21},{"t":3.5767,"y":-1.21},{"t":3.5867,"y":1.21},{"t":3.5967,"y":-1.21},
{"t":3.6067,"y":1.21},{"t":3.6167,"y":-1.21},{"t":3.6267,"y":1.21},{"t":3.6367,"y":-1.21},{"t":3.6467,"y":1.21},{"t":3.6567,"y":-1.21},{"t":3.6667,"y":1.21},{"t":3.6767,"y":-1.21},{"t":3.6867,"y":1.21},{"t":3.6967,"y":-1.21},
{"t":3.7067,"y":1.21},{"t":3.7167,"y":-1.21},{"t":3.7267,"y":1.21},{"t":3.7367,"y":-1.21},{"t":3.7467,"y":1.21},{"t":3.7567,"y":-1.21},{"t":3.7667,"y":1.21},{"t":3.7767,"y":-1.21},{"t":3.7867,"y":1.21},{"t":3.7967,"y":-1.21},
{"t":3.8067,"y":1.21},{"t":3.8167,"y":-1.21},{"t":3.8267,"y":1.21},{"t":3.8367,"y":-1.21},{"t":3.8467,"y":1.21},{"t":3.8567,"y":-1.21},{"t":3.8667,"y":1.21},{"t":3.8767,"y":-1.21},{"t":3.8867,"y":1.21},{"t":3.8967,"y":-1.21},
{"t":3.9067,"y":1.21},{"t":3.9167,"y":-1.21},{"t":3.9267,"y":1.21},{"t":3.9367,"y":-1.21},{"t":3.9467,"y":1.21},{"t":3.9567,"y":-1.21},{"t":3.9667,"y":1.21},{"t":3.9767,"y":-1.21},{"t":3.9867,"y":1.21},{"t":3.9967,"y":-1.21},
{"t":4.0067,"y":1.21},{"t":4.0167,"y":-1.21},{"t":4.0267,"y":1.21},{"t":4.0367,"y":-1.21},{"t":4.0467,"y":1.21},{"t":4.0567,"y":-1.21},{"t":4.0667,"y":1.21},{"t":4.0767,"y":-1.21},{"t":4.0867,"y":1.21},{"t":4.0967,"y":-1.21},
{"t":4.1067,"y":1.21},{"t":4.1167,"y":-1.21},{"t":4.1267,"y":1.21},{"t":4.1367,"y":-1.21},{"t":4.1467,"y":1.21},{"t":4.1567,"y":-1.21},{"t":4.1667,"y":1.21},{"t":4.1767,"y":-1.21},{"t":4.1867,"y":1.21},{"t":4.1967,"y":-1.21},
{"t":4.2067,"y":1.21},{"t":4.2167,"y":-1.21},{"t":4.2267,"y":1.21},{"t":4.2367,"y":-1.21},{"t":4.2467,"y":1.21},{"t":4.2567,"y":-1.21},{"t":4.2667,"y":1.21},{"t":4.2767,"y":-1.21},{"t":4.2867,"y":1.21},{"t":4.2967,"y":-1.21},
{"t":4.3067,"y":1.21},{"t":4.3167,"y":-1.21},{"t":4.3267,"y":1.21},{"t":4.3367,"y":-1.21},{"t":4.3467,"y":1.21},{"t":4.3567,"y":-1.21},{"t":4.3667,"y":1.21},{"t":4.3767,"y":-1.21},{"t":4.3867,"y":1.21},{"t":4.3967,"y":-1.21},
{"t":4.4067,"y":1.21},{"t":4.4167,"y":-1.21},{"t":4.4267,"y":1.21},{"t":4.4367,"y":-1.21},{"t":4.4467,"y":1.21},{"t":4.4567,"y":-1.21},{"t":4.4667,"y":1.21},{"t":4.4767,"y":-1.21},{"t":4.4867,"y":1.21},{"t":4.4967,"y":-1.21},
{"t":4.5067,"y":1.21},{"t":4.5167,"y":-0.99},{"t":4.5267,"y":0.99},{"t":4.5367,"y":-0.99},{"t":4.5467,"y":0.99},{"t":4.5567,"y":-0.99},{"t":4.5667,"y":0.99},{"t":4.5767,"y":-0.99},{"t":4.5867,"y":0.99},{"t":4.5967,"y":-0.99},
{"t":4.6067,"y":0.99},{"t":4.6167,"y":-0.99},{"t":4.6267,"y":0.99},{"t":4.6367,"y":-0.99},{"t":4.6467,"y":0.99},{"t":4.6567,"y":-0.99},{"t":4.6667,"y":0.99},{"t":4.6767,"y":-0.99},{"t":4.6867,"y":0.99},{"t":4.6967,"y":-0.99},
{"t":4.7067,"y":0.99},{"t":4.7167,"y":-0.99},{"t":4.7267,"y":0.99},{"t":4.7367,"y":-0.99},{"t":4.7467,"y":0.99},{"t":4.7567,"y":-0.99},{"t":4.7667,"y":0.99},{"t":4.7767,"y":-0.99},{"t":4.7867,"y":0.99},{"t":4.7967,"y":-0.99},
{"t":4.8067,"y":0.99},{"t":4.8167,"y":-0.99},{"t":4.8267,"y":0.99},{"t":4.8367,"y":-0.99},{"t":4.8467,"y":0.99},{"t":4.8567,"y":-0.99},{"t":4.8667,"y":0.99},{"t":4.8767,"y":-0.99},{"t":4.8867,"y":0.99},{"t":4.8967,"y":-0.99},
{"t":4.9067,"y":0.99},{"t":4.9167,"y":-0.99},{"t":4.9267,"y":0.99},{"t":4.9367,"y":-0.99},{"t":4.9467,"y":0.99},{"t":4.9567,"y":-0.99},{"t":4.9667,"y":0.99},{"t":4.9767,"y":-0.99},{"t":4.9867,"y":0.99},{"t":4.9967,"y":-0.99},
{"t":5,"y":-0.5}]
},
"spacing":252,
"bounds":"flush",
"resolve":{"scale":{"color":"independent"},"legend":{"color":"independent"}},
"vconcat":[
{"width":2685,"height":540,
"resolve":{"axis":{"x":"independent","y":"independent"}},
"layer":[
{"data":{"name":"va"},"mark":{"type":"line","interpolate":"monotone","strokeWidth":8,"strokeCap":"round","strokeJoin":"round","clip":true},
"encoding":{
"x":{"field":"t","type":"quantitative","scale":{"domain":[2.5,5],"nice":false,"zero":false},"axis":{"orient":"bottom","values":[2.5,3,3.5,4,4.5,5],"labelExpr":"'' + datum.value","grid":true,"labelPadding":50.5,"title":"(a)","titlePadding":16.5}},
"y":{"field":"y","type":"quantitative","scale":{"domain":[-2,2],"nice":false,"zero":false},"axis":{"orient":"left","values":[-2,-1,0,1,2],"labelExpr":"'' + datum.value","grid":true,"labelPadding":50,"title":"Voltage(kV)","titlePadding":9}},
"color":{"datum":"va","type":"nominal","scale":{"domain":["va","vb","vc"],"range":["#0000ff","#ff0000","#00ff00"]},"legend":{"legendX":2151,"legendY":33}}}},
{"data":{"name":"vb"},"mark":{"type":"line","interpolate":"monotone","strokeWidth":8,"strokeCap":"round","strokeJoin":"round","clip":true},
"encoding":{"x":{"field":"t","type":"quantitative","axis":null},"y":{"field":"y","type":"quantitative","axis":null},"color":{"datum":"vb","type":"nominal"}}},
{"data":{"name":"vc"},"mark":{"type":"line","interpolate":"monotone","strokeWidth":8,"strokeCap":"round","strokeJoin":"round","clip":true},
"encoding":{"x":{"field":"t","type":"quantitative","axis":null},"y":{"field":"y","type":"quantitative","axis":null},"color":{"datum":"vc","type":"nominal"}}},
{"data":{"values":[]},"mark":{"type":"point","opacity":0},
"encoding":{"x":{"field":"t","type":"quantitative","axis":{"orient":"top","values":[2.5,3,3.5,4,4.5,5],"labels":false,"grid":false,"title":null,"zindex":1}},"y":{"field":"y","type":"quantitative","axis":{"orient":"right","values":[-2,-1,0,1,2],"labels":false,"grid":false,"title":null,"zindex":1}}}}
]},
{"width":2685,"height":540,
"resolve":{"axis":{"x":"independent","y":"independent"}},
"layer":[
{"data":{"name":"ia"},"mark":{"type":"line","interpolate":"monotone","strokeWidth":8,"strokeCap":"round","strokeJoin":"round","clip":true},
"encoding":{
"x":{"field":"t","type":"quantitative","scale":{"domain":[2.5,5],"nice":false,"zero":false},"axis":{"orient":"bottom","values":[2.5,3,3.5,4,4.5,5],"labelExpr":"'' + datum.value","grid":true,"labelPadding":50.5,"title":"(b)","titlePadding":16.5}},
"y":{"field":"y","type":"quantitative","scale":{"domain":[-2,2],"nice":false,"zero":false},"axis":{"orient":"left","values":[-2,-1,0,1,2],"labelExpr":"'' + datum.value","grid":true,"labelPadding":50,"title":"Current(kA)","titlePadding":9}},
"color":{"datum":"ia","type":"nominal","scale":{"domain":["ia","ib","ic"],"range":["#0000ff","#ff0000","#00ff00"]},"legend":{"legendX":2191,"legendY":33.5}}}},
{"data":{"name":"ib"},"mark":{"type":"line","interpolate":"monotone","strokeWidth":8,"strokeCap":"round","strokeJoin":"round","clip":true},
"encoding":{"x":{"field":"t","type":"quantitative","axis":null},"y":{"field":"y","type":"quantitative","axis":null},"color":{"datum":"ib","type":"nominal"}}},
{"data":{"name":"ic"},"mark":{"type":"line","interpolate":"monotone","strokeWidth":8,"strokeCap":"round","strokeJoin":"round","clip":true},
"encoding":{"x":{"field":"t","type":"quantitative","axis":null},"y":{"field":"y","type":"quantitative","axis":null},"color":{"datum":"ic","type":"nominal"}}},
{"data":{"values":[]},"mark":{"type":"point","opacity":0},
"encoding":{"x":{"field":"t","type":"quantitative","axis":{"orient":"top","values":[2.5,3,3.5,4,4.5,5],"labels":false,"grid":false,"title":null,"zindex":1}},"y":{"field":"y","type":"quantitative","axis":{"orient":"right","values":[-2,-1,0,1,2],"labels":false,"grid":false,"title":null,"zindex":1}}}}
]}
]
}
